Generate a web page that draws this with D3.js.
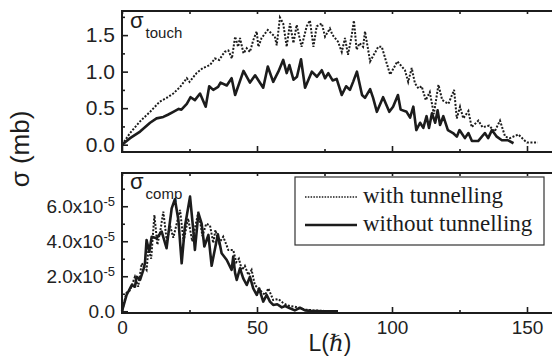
<!DOCTYPE html>
<html>
<head>
<meta charset="utf-8">
<script src="https://cdn.jsdelivr.net/npm/d3@7"></script>
<style>
  html, body { margin: 0; padding: 0; background: #fff; }
  svg { display: block; }
  .tick text { font-family: "Liberation Sans", Arial, sans-serif; fill: #222; }
</style>
</head>
<body>
<svg id="chart" width="552" height="356"></svg>
<script>
// ---- data: angular momentum L (hbar) and cross sections ----
// touching cross section (mb), with tunnelling
const touchWithL = [0, 3, 6.7, 10.4, 14, 16.5, 19, 21.5, 24, 25, 27.6, 30, 32.6, 34.4, 36, 38, 39.4, 40.7, 41.9, 43, 43.7, 45, 46.2, 47.4, 48.6, 49.9, 50.5, 51.7, 54, 56.6, 57.3, 58.5, 59.7, 61, 62.2, 63.5, 64.7, 66.5, 68.4, 69.6, 70.9, 72.1, 74, 75.2, 77, 78, 80, 81.4, 82.6, 83.7, 85, 85.9, 86.9, 88, 89.3, 90, 91.9, 94.9, 96.2, 99.3, 102, 104.8, 106, 107.3, 108.5, 109.8, 111, 112.5, 114, 115.5, 117.2, 118.6, 120.9, 123, 124, 125.2, 126.4, 128.3, 129.5, 132, 133.5, 136, 138, 140, 141.9, 143.7, 146.8, 149.3, 150, 154];
const touchWith = [0, 0.16, 0.32, 0.45, 0.59, 0.64, 0.70, 0.79, 0.91, 0.86, 0.98, 1.05, 1.09, 1.18, 1.16, 1.27, 1.29, 1.18, 1.48, 1.34, 1.46, 1.25, 1.32, 1.27, 1.43, 1.55, 1.34, 1.46, 1.57, 1.48, 1.36, 1.74, 1.66, 1.34, 1.66, 1.39, 1.64, 1.34, 1.62, 1.70, 1.34, 1.62, 1.66, 1.48, 1.59, 1.50, 1.41, 1.27, 1.46, 1.23, 1.48, 1.70, 1.30, 1.39, 1.34, 1.55, 1.14, 1.34, 1.34, 0.96, 1.14, 1.02, 0.86, 1.05, 0.84, 0.77, 0.80, 0.61, 0.72, 0.42, 0.82, 0.61, 0.56, 0.75, 0.36, 0.52, 0.36, 0.46, 0.24, 0.33, 0.24, 0.26, 0.18, 0.33, 0.11, 0.09, 0.14, 0.05, 0.03, 0.03];

// touching cross section (mb), without tunnelling
const touchWithoutL = [0, 3, 6.7, 10.4, 12.8, 15.3, 17, 19, 21, 22, 24, 25.4, 27, 28.9, 31, 32.3, 33.8, 35.6, 36.5, 38.8, 40.6, 41.9, 45, 47.4, 49.3, 52.3, 54, 56, 57.9, 59.7, 61, 62, 63.5, 64.8, 66.3, 67.8, 70.3, 72.2, 74, 75.2, 76.4, 78, 79.5, 81.4, 83, 84.4, 85.6, 87, 88.9, 90, 91.9, 93, 94.4, 96.7, 99, 100.4, 102.2, 103.2, 105.4, 106.7, 107.9, 109, 110.4, 111.6, 112.8, 113.7, 114.8, 116, 116.9, 117.8, 119, 120.7, 122.6, 124, 125, 127, 128.3, 129.6, 131.9, 134.4, 135.6, 137, 138.8, 140.7, 143, 145];
const touchWithout = [0, 0.09, 0.18, 0.30, 0.36, 0.38, 0.41, 0.45, 0.49, 0.48, 0.56, 0.65, 0.61, 0.70, 0.52, 0.80, 0.75, 0.79, 0.85, 0.81, 0.91, 0.68, 1.01, 0.85, 0.95, 0.78, 1.07, 0.86, 1.00, 1.16, 0.98, 1.09, 0.89, 0.93, 1.17, 0.78, 1.00, 0.93, 1.02, 0.91, 0.98, 0.88, 0.90, 0.68, 0.80, 0.75, 0.86, 1.00, 0.68, 0.64, 0.76, 0.64, 0.45, 0.65, 0.45, 0.52, 0.68, 0.48, 0.45, 0.37, 0.52, 0.20, 0.30, 0.23, 0.39, 0.23, 0.43, 0.30, 0.47, 0.27, 0.39, 0.20, 0.16, 0.11, 0.20, 0.09, 0.16, 0.05, 0.05, 0.16, 0.09, 0.20, 0.11, 0.06, 0.06, 0.02];

// compound-nucleus cross section, in units of 1e-5 mb
const compWithL = [0, 1.7, 3, 4.8, 6, 7.3, 9.1, 9.8, 10.8, 12, 13.1, 14.2, 15.3, 16.6, 17.8, 19, 21.5, 22.8, 24.5, 26, 28.3, 29.8, 31.2, 32.6, 33.8, 34.6, 36, 37.5, 39.4, 40, 41.2, 42.3, 43.3, 44.4, 45.5, 46.8, 48, 49.2, 50.5, 51.7, 53, 54.2, 56, 57.9, 59.5, 61, 62.2, 64, 66.5, 68, 70.9, 75, 80];
const compWith = [0, 1.07, 1.2, 1.97, 1.4, 2.74, 2.36, 3.6, 3.0, 5.5, 3.8, 4.6, 5.69, 4.0, 4.9, 4.2, 5.79, 4.0, 5.3, 4.0, 5.69, 4.3, 5.0, 4.9, 3.9, 4.64, 3.9, 4.26, 3.5, 3.5, 3.5, 2.8, 3.0, 2.36, 2.6, 2.07, 2.36, 1.5, 1.3, 1.12, 0.93, 1.31, 0.64, 0.7, 0.5, 0.36, 0.3, 0.26, 0.15, 0.1, 0.05, 0.02, 0];

const compWithoutL = [0, 1.7, 3.6, 4.8, 5.4, 6.7, 7.9, 8.5, 9.1, 10.1, 11, 12.8, 14.7, 16.5, 18.4, 19.6, 20.9, 22.1, 23.3, 25.2, 26.4, 27, 28.3, 29.5, 30.5, 32, 33.2, 35.5, 36.9, 38.8, 40.6, 41.2, 41.9, 42.5, 43.7, 44.9, 46.2, 47.4, 48.6, 49.9, 50.8, 52.3, 53.6, 54.8, 56, 57.5, 59.2, 60.4, 62.2, 64, 65.9, 67.8, 70, 74, 80];
const compWithout = [0, 0.93, 1.5, 1.4, 1.97, 1.8, 2.36, 2.74, 4.07, 3.4, 4.26, 4.17, 4.55, 3.6, 5.88, 6.4, 5.2, 2.74, 4.83, 6.55, 4.64, 3.5, 5.6, 5.0, 3.7, 4.36, 2.6, 4.4, 3.31, 2.93, 2.36, 3.12, 2.17, 1.79, 2.45, 1.88, 1.5, 1.97, 1.31, 0.93, 1.3, 0.55, 0.93, 0.55, 0.36, 0.4, 0.22, 0.3, 0.17, 0.05, 0.2, 0.05, 0.02, 0, 0];

// axis ticks
const xMajor = [0, 50, 100, 150];
const xMinor = [25, 75, 125];
const touchMajor = [0, 0.5, 1.0, 1.5];
const touchMinor = [0.25, 0.75, 1.25, 1.75];
const compMajor = [0, 2, 4, 6];
const compMinor = [1, 3, 5, 7];

const legendLabels = ["with tunnelling", "without tunnelling"];

// ---- layout ----
const svg = d3.select("#chart");
const INK = "#1c1c1c";
const x = d3.scaleLinear().domain([0, 160]).range([122, 554]);
const yTop = d3.scaleLinear().domain([-0.1, 1.83]).range([152, 11]);
const yBot = d3.scaleLinear().domain([-0.1, 7.9]).range([313, 173]);

function drawLines(g, yScale, Lw, vw, Lwo, vwo) {
  const pts = (L, v) => L.map((l, i) => [l, v[i]]);
  const line = d3.line().x(d => x(d[0])).y(d => yScale(d[1]));
  g.append("path").datum(pts(Lw, vw))
    .attr("d", line).attr("fill", "none").attr("stroke", INK)
    .attr("stroke-width", 2).attr("stroke-dasharray", "2,1.6");
  g.append("path").datum(pts(Lwo, vwo))
    .attr("d", line).attr("fill", "none").attr("stroke", INK)
    .attr("stroke-width", 2.6).attr("stroke-linejoin", "round");
}

function frame(yScale) {
  const [y0, y1] = yScale.range();
  svg.append("rect")
    .attr("x", x.range()[0]).attr("y", y1)
    .attr("width", x.range()[1] - x.range()[0]).attr("height", y0 - y1)
    .attr("fill", "none").attr("stroke", INK).attr("stroke-width", 2);
}

function xAxes(yScale, labels) {
  const [y0, y1] = yScale.range();
  const bottom = svg.append("g").attr("transform", `translate(0,${y0})`)
    .call(d3.axisBottom(x).tickValues(xMajor).tickSize(-6).tickPadding(8)
      .tickFormat(labels ? d3.format("d") : () => ""));
  svg.append("g").attr("transform", `translate(0,${y0})`)
    .call(d3.axisBottom(x).tickValues(xMinor).tickSize(-3).tickFormat(() => ""));
  svg.append("g").attr("transform", `translate(0,${y1})`)
    .call(d3.axisTop(x).tickValues(xMajor.concat(xMinor)).tickSize(-3).tickFormat(() => ""));
  bottom.selectAll("text").style("font-size", "19px");
}

function yAxes(yScale, major, minor, fmt, size) {
  const g = svg.append("g").attr("transform", `translate(${x.range()[0]},0)`)
    .call(d3.axisLeft(yScale).tickValues(major).tickSize(-6).tickPadding(7).tickFormat(fmt));
  svg.append("g").attr("transform", `translate(${x.range()[0]},0)`)
    .call(d3.axisLeft(yScale).tickValues(minor).tickSize(-3).tickFormat(() => ""));
  g.selectAll("text").style("font-size", size + "px");
  return g;
}

// ---- top panel: touching cross section ----
const touchPanel = svg.append("g");
drawLines(touchPanel, yTop, touchWithL, touchWith, touchWithoutL, touchWithout);
xAxes(yTop, false);
yAxes(yTop, touchMajor, touchMinor, d3.format(".1f"), 21);
frame(yTop);

// ---- bottom panel: compound-nucleus cross section ----
const compPanel = svg.append("g");
drawLines(compPanel, yBot, compWithL, compWith, compWithoutL, compWithout);
xAxes(yBot, true);
const gy = yAxes(yBot, compMajor, compMinor, d3.format(".1f"), 19);
gy.selectAll(".tick text").each(function (d) {
  if (d === 0) return;
  const t = d3.select(this);
  const base = t.text();
  t.text(null);
  t.append("tspan").text(base + "x10");
  t.append("tspan").attr("dy", "-0.55em").style("font-size", "13px").text("-5");
});
frame(yBot);
svg.selectAll(".domain").remove();
svg.selectAll(".tick line").attr("stroke", INK).attr("stroke-width", 1.6);

// ---- panel titles ----
function panelTitle(xp, yb, sub) {
  const t = svg.append("text").attr("x", xp).attr("y", yb)
    .attr("font-family", "Liberation Sans, Arial, sans-serif").attr("fill", INK);
  t.append("tspan").style("font-size", "22px").text("σ");
  t.append("tspan").attr("dy", 10).attr("dx", 2).style("font-size", "15px").text(sub);
}
panelTitle(130, 28, "touch");
panelTitle(130, 189, "comp");

// ---- axis titles ----
svg.append("text")
  .attr("transform", "translate(29,149) rotate(-90)")
  .attr("text-anchor", "middle")
  .attr("font-family", "Liberation Sans, Arial, sans-serif")
  .attr("font-size", 26).attr("fill", INK)
  .text("σ (mb)");

const xl = svg.append("text")
  .attr("x", 330).attr("y", 351).attr("text-anchor", "middle")
  .attr("font-family", "Liberation Sans, Arial, sans-serif")
  .attr("font-size", 23).attr("fill", INK);
xl.append("tspan").text("L(");
xl.append("tspan").attr("font-family", "DejaVu Serif").attr("font-style", "italic").text("ℏ");
xl.append("tspan").text(")");

// ---- legend ----
const leg = svg.append("g");
leg.append("rect").attr("x", 295).attr("y", 177).attr("width", 249).attr("height", 68)
  .attr("fill", "#fff").attr("stroke", "#333").attr("stroke-width", 1.2);
const legStyles = [
  { w: 1.5, dash: "1.5,1.3" },
  { w: 2.4, dash: null }
];
legendLabels.forEach((lab, i) => {
  const yy = 197 + i * 28;
  const ln = leg.append("line").attr("x1", 305).attr("x2", 357).attr("y1", yy).attr("y2", yy)
    .attr("stroke", INK).attr("stroke-width", legStyles[i].w);
  if (legStyles[i].dash) ln.attr("stroke-dasharray", legStyles[i].dash);
  leg.append("text").attr("x", 363).attr("y", yy + 6)
    .attr("font-family", "Liberation Serif, Times New Roman, serif")
    .attr("font-size", 23).attr("fill", INK)
    .text(lab);
});
</script>
</body>
</html>
